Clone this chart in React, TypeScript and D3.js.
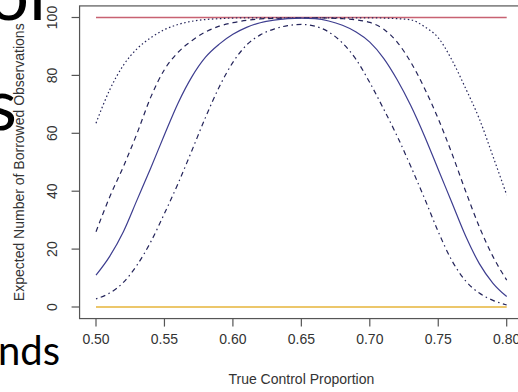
import React from "react";
import * as d3 from "d3";

const proportions = [0.50, 0.51, 0.52, 0.53, 0.54, 0.55, 0.56, 0.57, 0.58, 0.59, 0.60, 0.61, 0.62, 0.63, 0.64, 0.65, 0.66, 0.67, 0.68, 0.69, 0.70, 0.71, 0.72, 0.73, 0.74, 0.75, 0.76, 0.77, 0.78, 0.79, 0.80];

const solidSeries = [11, 17.5, 26, 37, 48, 59.5, 70.5, 79.5, 86.3, 90.8, 94.2, 96.6, 98.2, 99.1, 99.6, 99.8, 99.6, 98.8, 97.3, 95, 91.5, 86, 78.5, 69.5, 59, 47.5, 36, 24.5, 15, 8.2, 3.6];
const dashedSeries = [26, 38, 48.5, 60, 72.5, 82, 88, 92, 95, 97, 98.2, 99, 99.5, 99.7, 99.8, 99.9, 99.9, 99.8, 99.6, 99.2, 98.3, 96, 91.5, 84.5, 75.5, 65, 53, 40, 27.7, 17.4, 9.3];
const dottedSeries = [63.5, 75, 83.5, 89.2, 93, 95.8, 97.6, 98.7, 99.3, 99.6, 99.8, 99.9, 99.9, 99.9, 99.9, 99.9, 99.9, 99.9, 99.9, 99.9, 99.9, 99.8, 99.6, 99.2, 96.8, 93, 85.3, 75.5, 65, 52, 38.7];
const dashDotSeries = [2.8, 4.8, 8.5, 14.5, 22.5, 32.3, 42.7, 54, 65.5, 76, 84.5, 90.5, 94, 96, 97.2, 97.6, 97, 95, 91.2, 85.5, 77.5, 68.5, 59, 48.5, 37.5, 26, 16, 9, 4.8, 2.3, 0.7];
const upperBound = [100, 100];
const lowerBound = [0, 0];
const boundX = [0.50, 0.80];

const xTicks = [0.50, 0.55, 0.60, 0.65, 0.70, 0.75, 0.80];
const yTicks = [0, 20, 40, 60, 80, 100];
const xTitle = "True Control Proportion";
const yTitle = "Expected Number of Borrowed Observations";
const slideFragments = [
  { text: "ol", x: 46, y: 20 },
  { text: "s", x: 17, y: 130 },
];
const slideFragmentSmall = { text: "nds", x: 60, y: 365 };

export default function App() {
  const x = d3.scaleLinear().domain([0.5, 0.8]).range([96, 506.7]);
  const y = d3.scaleLinear().domain([0, 100]).range([307, 17.5]);
  const boxL = x(0.488);
  const boxR = x(0.812);
  const boxT = y(104);
  const boxB = y(-4);

  const line = d3
    .line<number>()
    .x((_, i) => x(proportions[i]))
    .y((d) => y(d))
    .curve(d3.curveMonotoneX);
  const flat = d3
    .line<number>()
    .x((_, i) => x(boundX[i]))
    .y((d) => y(d));

  const font = "'Liberation Sans', Arial, sans-serif";
  const curveColor = "#24245a";

  return (
    <div style={{ position: "fixed", left: 0, top: 0 }}>
      <svg width={518} height={392} style={{ display: "block", background: "#fff" }}>
        {slideFragments.map((f) => (
          <text key={f.text} x={f.x} y={f.y} textAnchor="end" fontFamily="Lato, 'Open Sans', sans-serif" fontSize={72} fill="#000">
            {f.text}
          </text>
        ))}
        <text x={slideFragmentSmall.x} y={slideFragmentSmall.y} textAnchor="end" fontFamily="Lato, 'Open Sans', sans-serif" fontSize={40} fill="#000">
          {slideFragmentSmall.text}
        </text>

        <path d={flat(upperBound) || ""} fill="none" stroke="#c86272" strokeWidth={1.6} />
        <path d={flat(lowerBound) || ""} fill="none" stroke="#e6b43a" strokeWidth={1.5} />

        <path d={line(dottedSeries) || ""} fill="none" stroke={curveColor} strokeWidth={1.2} strokeDasharray="1.5,2.5" />
        <path d={line(dashedSeries) || ""} fill="none" stroke={curveColor} strokeWidth={1.2} strokeDasharray="5,4" />
        <path d={line(dashDotSeries) || ""} fill="none" stroke={curveColor} strokeWidth={1.2} strokeDasharray="1.5,3.5,5,3.5" />
        <path d={line(solidSeries) || ""} fill="none" stroke="#3d3d8f" strokeWidth={1.2} />

        <rect x={boxL} y={boxT} width={boxR - boxL} height={boxB - boxT} fill="none" stroke="#555" strokeWidth={1.2} />

        {xTicks.map((t) => (
          <g key={t}>
            <line x1={x(t)} x2={x(t)} y1={boxB} y2={boxB + 8} stroke="#555" strokeWidth={1.2} />
            <text x={x(t)} y={344} textAnchor="middle" fontFamily={font} fontSize={14} fill="#333">
              {t.toFixed(2)}
            </text>
          </g>
        ))}
        {yTicks.map((t) => (
          <g key={t}>
            <line x1={boxL - 8} x2={boxL} y1={y(t)} y2={y(t)} stroke="#555" strokeWidth={1.2} />
            <text transform={`translate(57,${y(t)}) rotate(-90)`} textAnchor="middle" fontFamily={font} fontSize={14} fill="#333">
              {t}
            </text>
          </g>
        ))}
        <text x={(boxL + boxR) / 2} y={384} textAnchor="middle" fontFamily={font} fontSize={14} fill="#333">
          {xTitle}
        </text>
        <text transform={`translate(24,${(boxT + boxB) / 2}) rotate(-90)`} textAnchor="middle" fontFamily={font} fontSize={14} fill="#333">
          {yTitle}
        </text>
      </svg>
    </div>
  );
}
